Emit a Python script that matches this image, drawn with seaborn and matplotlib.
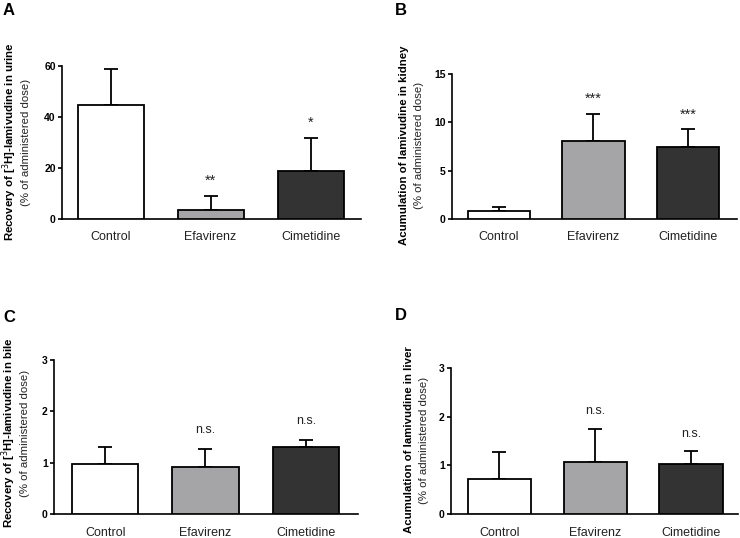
import matplotlib
matplotlib.use("Agg")
import matplotlib.pyplot as plt
import seaborn as sns
import pandas as pd
import numpy as np

sns.set_theme(style="ticks")
plt.rcParams['font.family'] = ['Liberation Sans', 'DejaVu Sans']

categories = ["Control", "Efavirenz", "Cimetidine"]
colors = ["#ffffff", "#a4a4a8", "#333333"]

urine_mean = [44.6, 3.5, 18.7]
urine_err = [14.3, 5.5, 13.0]
kidney_mean = [0.78, 8.12, 7.46]
kidney_err = [0.45, 2.78, 1.80]
bile_mean = [0.97, 0.92, 1.31]
bile_err = [0.33, 0.35, 0.14]
liver_mean = [0.72, 1.06, 1.02]
liver_err = [0.56, 0.69, 0.27]

urine_sig = ["", "**", "*"]
kidney_sig = ["", "***", "***"]
bile_sig = ["", "n.s.", "n.s."]
liver_sig = ["", "n.s.", "n.s."]

W, H = 740, 538
fig = plt.figure(figsize=(W / 100, H / 100), dpi=100)


def ax_px(l, r, t, b):
    return fig.add_axes([l / W, 1 - b / H, (r - l) / W, (b - t) / H])


panels = [
    dict(box=(62, 361, 66, 219), mean=urine_mean, err=urine_err, sig=urine_sig,
         ylim=60, ticks=[0, 20, 40, 60], xlim=(-0.485, 2.505),
         lab1=r"Recovery of [$^{3}$H]-lamivudine in urine", x1=10, x2=26, yc=142,
         letter="A", lx=3, ly=3),
    dict(box=(452, 737, 74, 219), mean=kidney_mean, err=kidney_err, sig=kidney_sig,
         ylim=15, ticks=[0, 5, 10, 15], xlim=(-0.496, 2.52),
         lab1="Acumulation of lamivudine in kidney", x1=404, x2=419, yc=145,
         letter="B", lx=395, ly=3),
    dict(box=(54, 358, 360, 514), mean=bile_mean, err=bile_err, sig=bile_sig,
         ylim=3, ticks=[0, 1, 2, 3], xlim=(-0.51, 2.52),
         lab1=r"Recovery of [$^{3}$H]-lamivudine in bile", x1=9, x2=25, yc=433,
         letter="C", lx=3, ly=310),
    dict(box=(451, 738, 368, 514), mean=liver_mean, err=liver_err, sig=liver_sig,
         ylim=3, ticks=[0, 1, 2, 3], xlim=(-0.506, 2.49),
         lab1="Acumulation of lamivudine in liver", x1=409, x2=424, yc=440,
         letter="D", lx=395, ly=308),
]

for p in panels:
    l, r, t, b = p["box"]
    ax = ax_px(l, r, t, b)
    df = pd.DataFrame({"group": categories, "value": p["mean"]})
    sns.barplot(data=df, x="group", y="value", hue="group", palette=colors,
                order=categories, hue_order=categories, width=0.66,
                edgecolor="black", linewidth=1.3, legend=False, ax=ax,
                errorbar=None, zorder=3)
    xs = np.arange(len(categories))
    ax.errorbar(xs, p["mean"], yerr=[np.zeros(3), p["err"]], fmt="none",
                ecolor="black", elinewidth=1.3, capsize=5, capthick=1.3, zorder=2)
    ymax = p["ylim"]
    for x, m, e, s in zip(xs, p["mean"], p["err"], p["sig"]):
        if s:
            fs = 10.5 if "*" in s else 9
            off = 0.055 if "*" in s else 0.08
            ax.text(x, m + e + ymax * off, s, ha="center", va="bottom",
                    fontsize=fs, color="#222222")
    ax.set_ylim(0, ymax)
    ax.set_xlim(*p["xlim"])
    ax.set_yticks(p["ticks"])
    ax.set_yticklabels([str(t_) for t_ in p["ticks"]], fontweight="bold", fontsize=7.5)
    ax.set_xlabel("")
    ax.set_ylabel("")
    ax.tick_params(axis="x", length=0, pad=9, labelsize=9, colors="black")
    ax.tick_params(axis="y", length=3, width=1.2, pad=1.5, colors="black")
    for lab in ax.get_xticklabels():
        lab.set_color("#222222")
    sns.despine(ax=ax)
    for sp in ["left", "bottom"]:
        ax.spines[sp].set_linewidth(1.2)
        ax.spines[sp].set_color("black")
    yc = 1 - p["yc"] / H
    fig.text(p["x1"] / W, yc, p["lab1"], rotation=90, ha="center", va="center",
             fontsize=8.2, fontweight="bold", color="black")
    fig.text(p["x2"] / W, yc, "(% of administered dose)", rotation=90, ha="center",
             va="center", fontsize=8.2, color="#222222")
    fig.text(p["lx"] / W, 1 - p["ly"] / H, p["letter"], ha="left", va="top",
             fontsize=12, fontweight="bold", color="black")

fig.savefig("out.png", dpi=100)
